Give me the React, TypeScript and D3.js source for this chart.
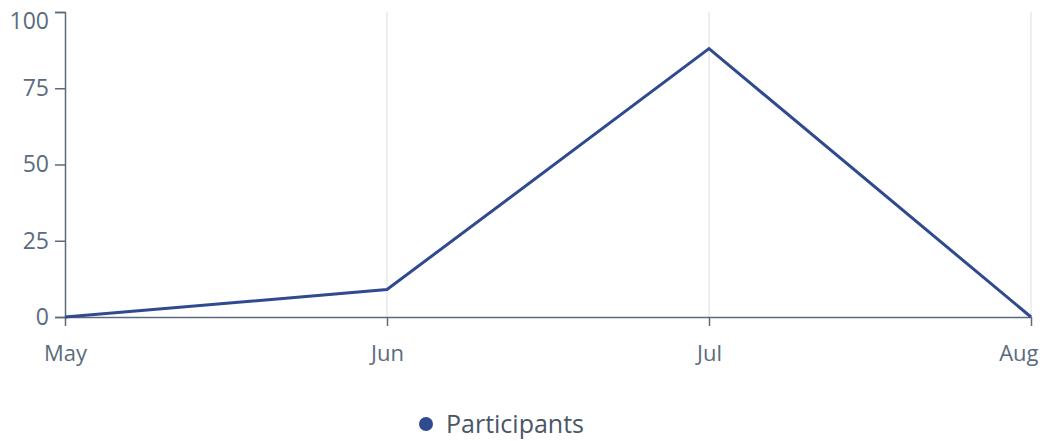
import React, { useEffect, useRef } from 'react';
import * as d3 from 'd3';

const months = ['May', 'Jun', 'Jul', 'Aug'];
const participants = [0, 9, 88, 0];
const yTicks = [0, 25, 50, 75, 100];
const seriesName = 'Participants';

const App = () => {
  const ref = useRef<SVGSVGElement>(null);

  useEffect(() => {
    const width = 1053;
    const height = 441;
    const margin = { top: 12, right: 22, bottom: 124, left: 65 };
    const textColor = '#5b6b7d';
    const lineColor = '#2f4a8e';
    const font = '"Open Sans", "Noto Sans", sans-serif';

    const svg = d3.select(ref.current);
    svg.selectAll('*').remove();

    const x = d3.scalePoint<string>()
      .domain(months)
      .range([margin.left, width - margin.right]);

    const y = d3.scaleLinear()
      .domain([0, 100])
      .range([height - margin.bottom, margin.top]);

    // vertical grid lines
    svg.append('g')
      .selectAll('line')
      .data(months.slice(1))
      .enter()
      .append('line')
      .attr('x1', d => x(d)!)
      .attr('x2', d => x(d)!)
      .attr('y1', y(100))
      .attr('y2', y(0))
      .attr('stroke', '#e6e8ec')
      .attr('stroke-width', 1.5);

    const yAxis = svg.append('g')
      .attr('transform', `translate(${margin.left},0)`)
      .call(d3.axisLeft(y).tickValues(yTicks).tickSize(10).tickSizeOuter(10).tickPadding(6));
    yAxis.selectAll('path, line').attr('stroke', textColor).attr('stroke-width', 1.5);
    yAxis.selectAll('text')
      .attr('fill', textColor)
      .style('font-family', font)
      .style('font-size', '23px')
      // top label is pushed down so it stays inside the frame
      .attr('y', d => (d === 100 ? 9 : 0));

    const xAxis = svg.append('g')
      .attr('transform', `translate(0,${y(0)})`)
      .call(d3.axisBottom(x).tickSize(9).tickSizeOuter(0).tickPadding(19));
    xAxis.selectAll('path, line').attr('stroke', textColor).attr('stroke-width', 1.5);
    xAxis.selectAll('text')
      .attr('fill', textColor)
      .style('font-family', font)
      .style('font-size', '22px')
      .attr('text-anchor', (d, i) => (i === months.length - 1 ? 'end' : 'middle'))
      .attr('dx', (d, i) => (i === months.length - 1 ? 7 : 0));

    const line = d3.line<number>()
      .x((d, i) => x(months[i])!)
      .y(d => y(d));

    svg.append('path')
      .datum(participants)
      .attr('d', line)
      .attr('fill', 'none')
      .attr('stroke', lineColor)
      .attr('stroke-width', 3)
      .attr('stroke-linejoin', 'miter');

    // legend
    const legend = svg.append('g').attr('transform', 'translate(426,424)');
    legend.append('circle').attr('r', 7).attr('fill', lineColor);
    legend.append('text')
      .attr('x', 20)
      .attr('y', 9)
      .text(seriesName)
      .attr('fill', '#4a5668')
      .style('font-family', font)
      .style('font-size', '25px');
  }, []);

  return (
    <svg ref={ref} width={1053} height={441} style={{ position: 'absolute', left: 0, top: 0 }} />
  );
};

export default App;
